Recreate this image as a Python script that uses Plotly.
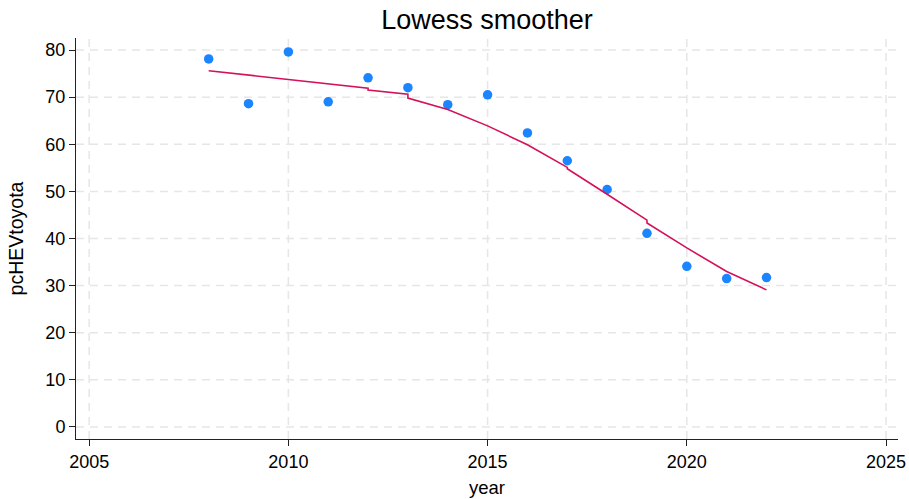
import plotly.graph_objects as go

# Observed share of HEV (%) in Toyota sales, by year
years = [2008, 2009, 2010, 2011, 2012, 2013, 2014, 2015,
         2016, 2017, 2018, 2019, 2020, 2021, 2022]
pc_hev = [78.1, 68.6, 79.6, 69.0, 74.1, 72.0, 68.4, 70.5,
          62.4, 56.5, 50.4, 41.1, 34.1, 31.5, 31.7]

# Lowess fit (repeated years mark the small steps in the fitted curve)
lowess_x = [2008, 2009, 2010, 2011, 2012, 2012, 2013, 2013, 2014, 2015,
            2016, 2017, 2017, 2018, 2019, 2019, 2020, 2021, 2022]
lowess_y = [75.6, 74.7, 73.8, 72.9, 71.9, 71.5, 70.6, 69.8, 67.4, 63.9,
            59.9, 55.1, 54.8, 49.4, 43.9, 43.3, 38.0, 33.0, 29.1]

x_ticks = [2005, 2010, 2015, 2020, 2025]
y_ticks = [0, 10, 20, 30, 40, 50, 60, 70, 80]

FONT = "Liberation Sans, Arial, Helvetica, sans-serif"
GRID = "#e6e6e6"

fig = go.Figure()

fig.add_trace(go.Scatter(
    x=years, y=pc_hev, mode="markers",
    marker=dict(color="#1a85ff", size=9.5, line=dict(width=0)),
    name="pcHEVtoyota", showlegend=False,
))

fig.add_trace(go.Scatter(
    x=lowess_x, y=lowess_y, mode="lines",
    line=dict(color="#d41159", width=1.6),
    name="Lowess", showlegend=False,
))

# dashed grid lines drawn as shapes so they can be dashed
for xv in x_ticks:
    fig.add_shape(type="line", xref="x", yref="paper", x0=xv, x1=xv, y0=0, y1=1,
                  line=dict(color=GRID, width=1.5, dash="8px,6px"), layer="below")
for yv in y_ticks:
    fig.add_shape(type="line", xref="paper", yref="y", x0=0, x1=1, y0=yv, y1=yv,
                  line=dict(color=GRID, width=1.5, dash="8px,6px"), layer="below")

fig.update_layout(
    width=909, height=499,
    margin=dict(l=76, r=11, t=38, b=60),
    paper_bgcolor="white", plot_bgcolor="white",
    font=dict(family=FONT, size=18, color="black"),
    title=dict(text="Lowess smoother", x=0.5357, xanchor="center",
               y=0.96, yanchor="middle",
               font=dict(family=FONT, size=27, color="black")),
)

fig.update_xaxes(
    range=[2004.67, 2025.3], tickvals=x_ticks, ticks="outside", ticklen=6,
    tickcolor="#222", tickwidth=1, showgrid=False, zeroline=False,
    showline=True, linecolor="#222", linewidth=1, automargin=False,
    tickfont=dict(size=18),
    title=dict(text="year", font=dict(size=18.5), standoff=10),
)
fig.update_yaxes(
    range=[-2.55, 82.55], tickvals=y_ticks, ticks="outside", ticklen=6,
    tickcolor="#222", tickwidth=1, showgrid=False, zeroline=False,
    showline=True, linecolor="#222", linewidth=1, automargin=False,
    tickfont=dict(size=18),
    title=dict(text="pcHEVtoyota", font=dict(size=19.5), standoff=16),
)

fig.write_html("out.html")
